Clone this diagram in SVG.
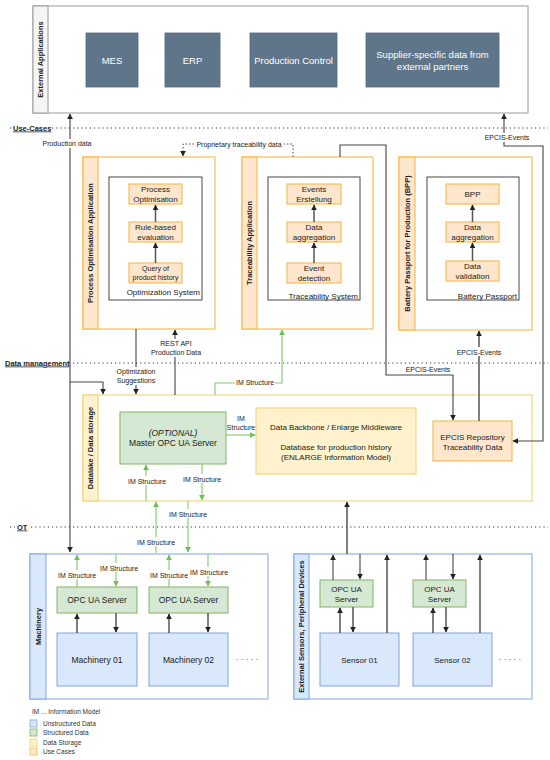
<svg xmlns="http://www.w3.org/2000/svg" width="550" height="760" viewBox="0 0 550 760">
<defs>
<style>
text{font-family:"Liberation Sans",Arial,sans-serif;fill:#1a1a1a}
.hdr{font-weight:bold;font-size:7.5px;text-anchor:middle}
.lay{font-weight:bold;font-size:7.5px;text-decoration:underline}
.lbl{font-size:7px;text-anchor:middle}
.t8{font-size:8px;text-anchor:middle}
.t85{font-size:8.5px;text-anchor:middle}
.sysl{font-size:8px;text-anchor:end}
.leg{font-size:6.5px;fill:#333}
.bg{fill:#fff}
.extc{fill:#fff;stroke:#9a9a9a;stroke-width:1}
.exth{fill:#f5f5f5;stroke:#9a9a9a;stroke-width:1}
.ext{fill:#5f7589;stroke:#52677a;stroke-width:0.8}
.extt{fill:#fff;font-size:9.5px;text-anchor:middle}
.uc{fill:#fff;stroke:#f5b94a;stroke-width:1.1}
.uch{fill:#ffe6cc;stroke:#f5b94a;stroke-width:1.1}
.sys{fill:#fff;stroke:#333;stroke-width:0.9}
.ds{fill:#fff;stroke:#f2d27a;stroke-width:1.1}
.dsh{fill:#fff2cc;stroke:#f2d27a;stroke-width:1.1}
.gr{fill:#d5e8d4;stroke:#82b366;stroke-width:1}
.bl{fill:#dae8fc;stroke:#7ea6e0;stroke-width:1}
.blc{fill:#fff;stroke:#7ea6e0;stroke-width:1}
.ln{fill:none;stroke:#444;stroke-width:1.1}
.ln2{fill:none;stroke:#555;stroke-width:1.5}
.gln{fill:none;stroke:#82c96a;stroke-width:1.1}
.dot{fill:none;stroke:#333;stroke-width:1.2;stroke-dasharray:1.2 3}
.pdot{fill:none;stroke:#444;stroke-width:1;stroke-dasharray:1.5 2}
</style>
<marker id="ah" viewBox="0 0 10 10" refX="9" refY="5" markerWidth="6" markerHeight="6" markerUnits="userSpaceOnUse" orient="auto-start-reverse"><path d="M0,0 L10,5 L0,10 z" fill="#222"/></marker>
<marker id="ahg" viewBox="0 0 10 10" refX="9" refY="5" markerWidth="6" markerHeight="6" markerUnits="userSpaceOnUse" orient="auto-start-reverse"><path d="M0,0 L10,5 L0,10 z" fill="#6cbf55"/></marker>
</defs>
<rect x="0" y="0" width="550" height="760" fill="#fff"/>

<g id="layers">
<line class="dot" x1="10" y1="128" x2="548" y2="128"/>
<rect class="bg" x="12" y="123" width="37" height="10"/>
<text class="lay" x="13" y="130.5">Use-Cases</text>
<line class="dot" x1="10" y1="363" x2="548" y2="363"/>
<rect class="bg" x="4" y="358" width="65" height="10"/>
<text class="lay" x="5" y="365.5">Data management</text>
<line class="dot" x1="10" y1="527" x2="548" y2="527"/>
<rect class="bg" x="15" y="522" width="14" height="10"/>
<text class="lay" x="17" y="529.5">OT</text>
</g>

<g id="external-applications">
<rect class="extc" x="33" y="6" width="495" height="107"/>
<rect class="exth" x="33" y="6" width="15" height="107"/>
<text class="hdr" transform="translate(40.5,59.5) rotate(-90)" y="2.7">External Applications</text>
<g id="mes"><rect class="ext" x="86" y="33" width="52" height="54"/><text class="extt" x="112" y="63.5">MES</text></g>
<g id="erp"><rect class="ext" x="165" y="33" width="55" height="54"/><text class="extt" x="192.5" y="63.5">ERP</text></g>
<g id="production-control"><rect class="ext" x="250" y="33" width="87" height="54"/><text class="extt" x="293.5" y="63.5">Production Control</text></g>
<g id="supplier"><rect class="ext" x="366" y="33" width="133" height="54"/><text class="extt" x="432.5" y="57.5">Supplier-specific data from</text><text class="extt" x="432.5" y="69.5">external partners</text></g>
</g>

<g id="process-optimisation-application">
<rect class="uc" x="83" y="157" width="132" height="172"/>
<rect class="uch" x="83" y="157" width="15" height="172"/>
<text class="hdr" transform="translate(90.5,243) rotate(-90)" y="2.7">Process Optimisation Application</text>
<rect class="sys" x="109" y="177" width="93" height="123"/>
<text class="sysl" x="200" y="295">Optimization System</text>
<g id="process-optimisation"><rect class="uch" x="129" y="184" width="53" height="20"/><text class="t8" x="155.5" y="192">Process</text><text class="t8" x="155.5" y="201.5">Optimisation</text></g>
<g id="rule-based"><rect class="uch" x="129" y="222" width="53" height="20"/><text class="t8" x="155.5" y="230">Rule-based</text><text class="t8" x="155.5" y="239.5">evaluation</text></g>
<g id="query"><rect class="uch" x="129" y="263" width="53" height="20"/><text class="lbl" x="155.5" y="270.5">Query of</text><text class="lbl" x="155.5" y="280">product history</text></g>
</g>

<g id="traceability-application">
<rect class="uc" x="242" y="157" width="131" height="172"/>
<rect class="uch" x="242" y="157" width="15" height="172"/>
<text class="hdr" transform="translate(249.5,243) rotate(-90)" y="2.7">Traceability Application</text>
<rect class="sys" x="268" y="177" width="92" height="123"/>
<text class="sysl" x="358" y="299">Traceability System</text>
<g id="events-erstellung"><rect class="uch" x="287" y="184" width="54" height="20"/><text class="t8" x="314" y="192">Events</text><text class="t8" x="314" y="201.5">Erstellung</text></g>
<g id="data-aggregation-t"><rect class="uch" x="287" y="222" width="54" height="20"/><text class="t8" x="314" y="230">Data</text><text class="t8" x="314" y="239.5">aggregation</text></g>
<g id="event-detection"><rect class="uch" x="287" y="263" width="54" height="20"/><text class="t8" x="314" y="271">Event</text><text class="t8" x="314" y="280.5">detection</text></g>
</g>

<g id="battery-passport-application">
<rect class="uc" x="399" y="157" width="133" height="173"/>
<rect class="uch" x="399" y="157" width="16" height="173"/>
<text class="hdr" transform="translate(407,243.5) rotate(-90)" y="2.7">Battery Passport for Production (BPP)</text>
<rect class="sys" x="427" y="177" width="92" height="123"/>
<text class="sysl" x="517" y="299">Battery Passport</text>
<g id="bpp"><rect class="uch" x="446" y="184" width="53" height="20"/><text class="t8" x="472.5" y="197">BPP</text></g>
<g id="data-aggregation-b"><rect class="uch" x="446" y="222" width="53" height="20"/><text class="t8" x="472.5" y="230">Data</text><text class="t8" x="472.5" y="239.5">aggregation</text></g>
<g id="data-validation"><rect class="uch" x="446" y="261" width="53" height="20"/><text class="t8" x="472.5" y="269">Data</text><text class="t8" x="472.5" y="278.5">validation</text></g>
</g>

<g id="datalake">
<rect class="ds" x="83" y="395" width="449" height="106"/>
<rect class="dsh" x="83" y="395" width="15" height="106"/>
<text class="hdr" transform="translate(90.5,448) rotate(-90)" y="2.7">Datalake / Data storage</text>
<g id="master-opc"><rect class="gr" x="120" y="412" width="106" height="52"/><text class="t85" x="173" y="436" font-style="italic">(OPTIONAL)</text><text class="t85" x="173" y="446">Master OPC UA Server</text></g>
<g id="data-backbone"><rect class="dsh" x="256" y="408" width="160" height="66"/><text class="t8" x="336" y="430">Data Backbone / Enlarge Middleware</text><text class="t8" x="336" y="450">Database for production history</text><text class="t8" x="336" y="459.5">(ENLARGE Information Model)</text></g>
<g id="epcis-repository"><rect class="uch" x="433" y="421" width="79" height="40"/><text class="t8" x="472.5" y="440">EPCIS Repository</text><text class="t8" x="472.5" y="450">Traceability Data</text></g>
</g>

<g id="machinery">
<rect class="blc" x="30" y="554" width="238" height="145"/>
<rect class="bl" x="30" y="554" width="16" height="145"/>
<text class="hdr" transform="translate(38,626.5) rotate(-90)" y="2.7">Machinery</text>
<g id="opc-m1"><rect class="gr" x="57" y="587" width="80" height="26"/><text class="t85" x="97" y="603">OPC UA Server</text></g>
<g id="opc-m2"><rect class="gr" x="149" y="587" width="79" height="26"/><text class="t85" x="188.5" y="603">OPC UA Server</text></g>
<g id="machinery-01"><rect class="bl" x="57" y="633" width="80" height="53"/><text class="t85" x="97" y="662.5">Machinery 01</text></g>
<g id="machinery-02"><rect class="bl" x="149" y="633" width="79" height="53"/><text class="t85" x="188.5" y="662.5">Machinery 02</text></g>
<text class="t8" x="247" y="662">· · · · ·</text>
</g>

<g id="sensors">
<rect class="blc" x="294" y="554" width="238" height="145"/>
<rect class="bl" x="294" y="554" width="15" height="145"/>
<text class="hdr" transform="translate(301.5,626.5) rotate(-90)" y="2.7">External Sensors, Peripheral Devices</text>
<g id="opc-s1"><rect class="gr" x="320" y="580" width="53" height="27"/><text class="t8" x="346.5" y="591.5">OPC UA</text><text class="t8" x="346.5" y="601.5">Server</text></g>
<g id="opc-s2"><rect class="gr" x="413" y="580" width="53" height="27"/><text class="t8" x="439.5" y="591.5">OPC UA</text><text class="t8" x="439.5" y="601.5">Server</text></g>
<g id="sensor-01"><rect class="bl" x="320" y="633" width="79" height="53"/><text class="t8" x="359.5" y="662.5">Sensor 01</text></g>
<g id="sensor-02"><rect class="bl" x="413" y="633" width="79" height="53"/><text class="t8" x="452.5" y="662.5">Sensor 02</text></g>
<text class="t8" x="510" y="662">· · · · ·</text>
</g>

<g id="connectors">
<path class="ln2" d="M155.5,263 V243" marker-end="url(#ah)"/>
<path class="ln2" d="M155.5,222 V205" marker-end="url(#ah)"/>
<path class="ln2" d="M314,263 V243" marker-end="url(#ah)"/>
<path class="ln2" d="M314,222 V205" marker-end="url(#ah)"/>
<path class="ln2" d="M472.5,261 V243" marker-end="url(#ah)"/>
<path class="ln2" d="M472.5,222 V205" marker-end="url(#ah)"/>

<path class="ln" d="M70,114 V552" marker-start="url(#ah)" marker-end="url(#ah)"/>
<path class="ln" d="M70,382 H103 V394" marker-end="url(#ah)"/>
<path class="ln" d="M136,329 V394" marker-end="url(#ah)"/>
<path class="ln" d="M175,395 V330" marker-end="url(#ah)"/>
<path class="pdot" d="M293,157 V144 H183 V156" marker-end="url(#ah)"/>
<path class="ln" d="M340,157 V145 H386 V375 H453 V420" marker-end="url(#ah)"/>
<path class="ln2" d="M479,421 V331" marker-end="url(#ah)"/>
<path class="ln" d="M513,441 H543 V146 H504 V114" marker-start="url(#ah)" marker-end="url(#ah)"/>
<path class="gln" d="M215,395 V383 H282 V330" marker-end="url(#ahg)"/>
<path class="gln" d="M226,435 H255" marker-end="url(#ahg)"/>
<path class="gln" d="M146,501 V465" marker-end="url(#ahg)"/>
<path class="gln" d="M202,464 V500" marker-end="url(#ahg)"/>
<path class="gln" d="M156,553 V502" marker-end="url(#ahg)"/>
<path class="gln" d="M188,501 V552" marker-end="url(#ahg)"/>
<path class="gln" d="M77,587 V555" marker-end="url(#ahg)"/>
<path class="gln" d="M116,554 V586" marker-end="url(#ahg)"/>
<path class="gln" d="M169,587 V555" marker-end="url(#ahg)"/>
<path class="gln" d="M208,554 V586" marker-end="url(#ahg)"/>
<path class="ln2" d="M77,633 V614" marker-end="url(#ah)"/>
<path class="ln2" d="M116,613 V632" marker-end="url(#ah)"/>
<path class="ln2" d="M169,633 V614" marker-end="url(#ah)"/>
<path class="ln2" d="M208,613 V632" marker-end="url(#ah)"/>
<path class="ln2" d="M347,554 V502" marker-end="url(#ah)"/>
<path class="ln" d="M333,580 V555" marker-end="url(#ah)"/>
<path class="ln" d="M360,554 V579" marker-end="url(#ah)"/>
<path class="ln2" d="M387,633 V555" marker-end="url(#ah)"/>
<path class="ln2" d="M340,633 V608" marker-end="url(#ah)"/>
<path class="ln2" d="M353,607 V632" marker-end="url(#ah)"/>
<path class="ln" d="M426,580 V555" marker-end="url(#ah)"/>
<path class="ln" d="M453,554 V579" marker-end="url(#ah)"/>
<path class="ln2" d="M480,633 V555" marker-end="url(#ah)"/>
<path class="ln2" d="M433,633 V608" marker-end="url(#ah)"/>
<path class="ln2" d="M446,607 V632" marker-end="url(#ah)"/>

<rect class="bg" x="41" y="139" width="52" height="9"/><text class="lbl" x="67" y="146">Production data</text>
<rect class="bg" x="194" y="140" width="90" height="9"/><text class="lbl" x="239" y="147">Proprietary traceability data</text>
<rect class="bg" x="484" y="133" width="46" height="9"/><text class="lbl" x="507" y="140">EPCIS-Events</text>
<rect class="bg" x="160" y="339" width="32" height="9"/><text class="lbl" x="176" y="346">REST API</text>
<rect class="bg" x="153" y="348" width="46" height="9"/><text class="lbl" x="176" y="355">Production Data</text>
<rect class="bg" x="116" y="367" width="40" height="9"/><text class="lbl" x="136" y="374">Optimization</text>
<rect class="bg" x="117" y="376" width="38" height="9"/><text class="lbl" x="136" y="383">Suggestions</text>
<rect class="bg" x="235" y="378" width="40" height="9"/><text class="lbl" x="255" y="385">IM Structure</text>
<text class="lbl" x="428" y="371.5">EPCIS-Events</text>
<rect class="bg" x="456" y="347" width="46" height="9"/><text class="lbl" x="479" y="354.5">EPCIS-Events</text>
<text class="lbl" x="241" y="420.5">IM</text>
<text class="lbl" x="241" y="429.5">Structure</text>
<rect class="bg" x="127" y="476" width="40" height="9"/><text class="lbl" x="147" y="483.5">IM Structure</text>
<rect class="bg" x="182" y="474" width="40" height="9"/><text class="lbl" x="202" y="481.5">IM Structure</text>
<rect class="bg" x="168" y="509" width="40" height="9"/><text class="lbl" x="188" y="516.5">IM Structure</text>
<rect class="bg" x="136" y="537" width="40" height="9"/><text class="lbl" x="156" y="544.5">IM Structure</text>
<rect class="bg" x="57" y="570" width="40" height="9"/><text class="lbl" x="77" y="577.5">IM Structure</text>
<rect class="bg" x="99" y="563" width="40" height="9"/><text class="lbl" x="119" y="570.5">IM Structure</text>
<rect class="bg" x="149" y="570" width="40" height="9"/><text class="lbl" x="169" y="577.5">IM Structure</text>
<rect class="bg" x="189" y="567" width="40" height="9"/><text class="lbl" x="209" y="574.5">IM Structure</text>
</g>

<g id="legend">
<text class="leg" x="32" y="713.5">IM ... Information Model</text>
<rect x="30" y="720" width="7" height="7" fill="#dae8fc" stroke="#7ea6e0" stroke-width="0.8"/><text class="leg" x="43" y="725.5">Unstructured Data</text>
<rect x="30" y="729" width="7" height="7" fill="#d5e8d4" stroke="#82b366" stroke-width="0.8"/><text class="leg" x="43" y="734.5">Structured Data</text>
<rect x="30" y="739" width="7" height="7" fill="#fff2cc" stroke="#f2d27a" stroke-width="0.8"/><text class="leg" x="43" y="744.5">Data Storage</text>
<rect x="30" y="748" width="7" height="7" fill="#ffe6cc" stroke="#f5b94a" stroke-width="0.8"/><text class="leg" x="43" y="753.5">Use Cases</text>
</g>
</svg>
